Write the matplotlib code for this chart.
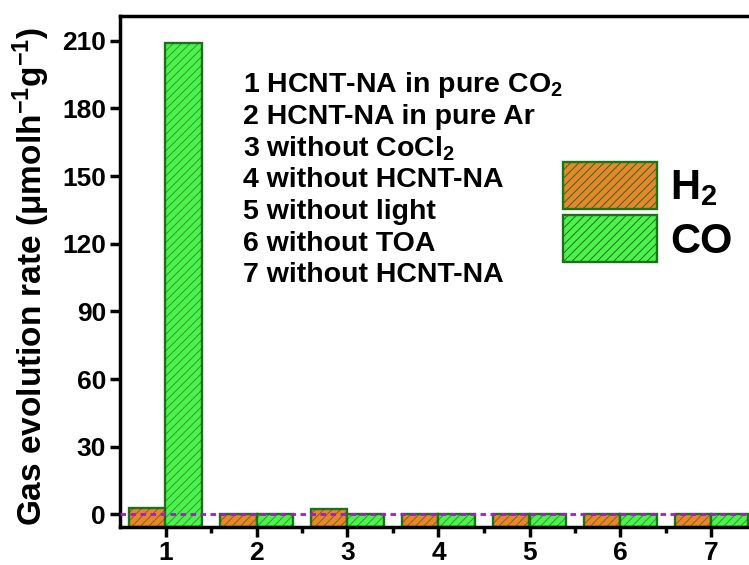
import numpy as np
import matplotlib
matplotlib.use("Agg")
from matplotlib import pyplot as plt
from matplotlib.patches import Patch

plt.rcParams['font.family'] = ['Liberation Sans', 'DejaVu Sans']
plt.rcParams['font.weight'] = 'bold'
plt.rcParams['axes.labelweight'] = 'bold'
plt.rcParams['mathtext.fontset'] = 'custom'
plt.rcParams['mathtext.rm'] = 'Liberation Sans:bold'
plt.rcParams['mathtext.bf'] = 'Liberation Sans:bold'
plt.rcParams['mathtext.default'] = 'rm'
plt.rcParams['hatch.linewidth'] = 0.7

# data
samples = [1, 2, 3, 4, 5, 6, 7]
h2_rate = [3.0, 0.0, 2.6, 0.0, 0.0, 0.0, 0.0]
co_rate = [209.0, 0.0, 0.0, 0.0, 0.0, 0.0, 0.0]
conditions = [r'1 HCNT-NA in pure CO$_2$',
              '2 HCNT-NA in pure Ar',
              r'3 without CoCl$_2$',
              '4 without HCNT-NA',
              '5 without light',
              '6 without TOA',
              '7 without HCNT-NA']
yticks = [0, 30, 60, 90, 120, 150, 180, 210]

h2_color = '#EA852C'
co_color = '#4DF24D'
edge_color = '#1A751A'
hatch_color = (0.05, 0.3, 0.05, 0.5)

ymin, ymax = -5.6, 221.0

fig = plt.figure(figsize=(7.49, 5.65), dpi=100)
ax = fig.add_axes([120 / 749, 38 / 565, 637 / 749, 511 / 565])

x = np.array(samples)
w = 0.4
h2_h = np.array(h2_rate) - ymin
co_h = np.array(co_rate) - ymin
ax.bar(x - w / 2, h2_h, w, bottom=ymin, color=h2_color, edgecolor=edge_color, lw=1.7, zorder=2)
ax.bar(x + w / 2, co_h, w, bottom=ymin, color=co_color, edgecolor=edge_color, lw=1.7, zorder=2)
# hatch overlay
ax.bar(x - w / 2, h2_h, w, bottom=ymin, fill=False, hatch='////', edgecolor=hatch_color, lw=0, zorder=3)
ax.bar(x + w / 2, co_h, w, bottom=ymin, fill=False, hatch='////', edgecolor=hatch_color, lw=0, zorder=3)

ax.axhline(0, color='#A020C0', lw=2, ls=(0, (2, 1.6)), zorder=4)

ax.set_xlim(0.5, 7.5)
ax.set_ylim(ymin, ymax)
ax.set_xticks(samples)
ax.set_xticks(np.arange(1.5, 7.6, 1), minor=True)
ax.set_yticks(yticks)
ax.tick_params(axis='both', which='major', direction='out', width=2.5, labelsize=19)
ax.tick_params(axis='y', length=7, pad=3)
ax.tick_params(axis='x', length=7, pad=3)
ax.tick_params(axis='x', which='minor', direction='out', length=4, width=2.5)
for s in ax.spines.values():
    s.set_linewidth(2.5)

ax.set_ylabel(r'Gas evolution rate ($\mu$molh$^{-1}$g$^{-1}$)', fontsize=24)
ax.yaxis.set_label_coords((52 - 120) / 637, (565 - 276 - 38) / 511)

for i, txt in enumerate(conditions):
    fig.text(243 / 749, 1 - (85 + i * 31.7) / 565, txt, fontsize=20.5,
             va='center', ha='left')

handles = [Patch(facecolor=h2_color, edgecolor=edge_color, lw=1.7, hatch='////'),
           Patch(facecolor=co_color, edgecolor=edge_color, lw=1.7, hatch='////')]
leg = ax.legend(handles, [r'H$_2$', 'CO'], loc='upper left',
                bbox_to_anchor=(563 / 749, 1 - 162 / 565), bbox_transform=fig.transFigure,
                frameon=False, fontsize=30, handlelength=2.25, handleheight=1.35,
                handletextpad=0.33, labelspacing=0.16, borderpad=0, borderaxespad=0)

fig.savefig('out.png', dpi=100)
